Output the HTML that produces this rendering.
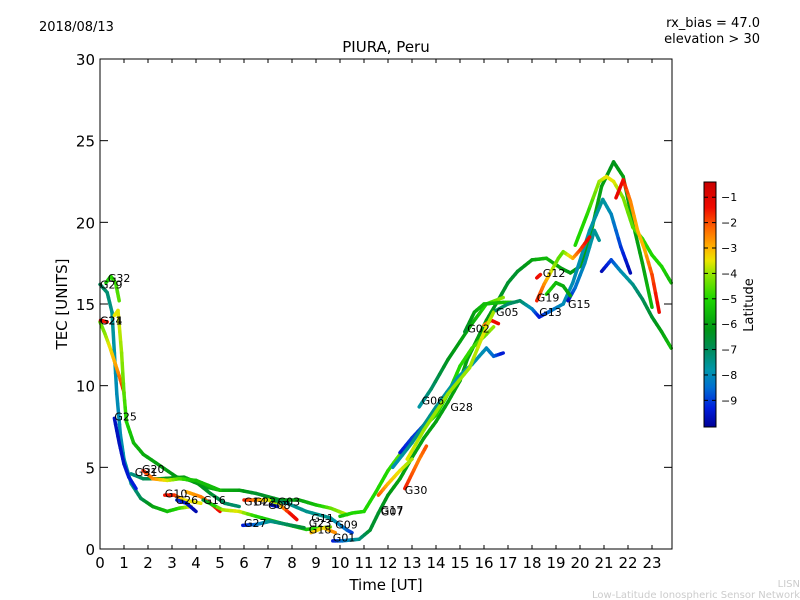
<!DOCTYPE html>
<html><head><meta charset="utf-8"><style>
html,body{margin:0;padding:0;background:#fff;}
svg{display:block;font-family:"DejaVu Sans","Liberation Sans",sans-serif;}
</style></head><body>
<svg id="chart" width="800" height="600" viewBox="0 0 800 600">
<defs>
<linearGradient id="cbgrad" x1="0" y1="1" x2="0" y2="0"></linearGradient>
</defs>
<text x="39" y="31" font-size="13">2018/08/13</text>
<text x="760" y="27" font-size="13" text-anchor="end">rx_bias = 47.0</text>
<text x="760" y="43" font-size="13" text-anchor="end">elevation &gt; 30</text>
<text x="386" y="52" font-size="15" text-anchor="middle">PIURA, Peru</text>
<g id="plot"></g>
<g id="axes"></g>
<rect x="100" y="59" width="572" height="490" fill="none" stroke="#000" stroke-width="1"/>
<text x="386" y="590" font-size="15" text-anchor="middle">Time [UT]</text>
<text x="0" y="0" font-size="15" text-anchor="middle" transform="translate(67,304) rotate(-90)">TEC [UNITS]</text>
<g id="cbar"></g>
<text x="0" y="0" font-size="13" text-anchor="middle" transform="translate(753,305) rotate(-90)">Latitude</text>
<text x="800" y="587" font-size="10" fill="#ccc" text-anchor="end">LISN</text>
<text x="800" y="598" font-size="10" fill="#ccc" text-anchor="end">Low-Latitude Ionospheric Sensor Network</text>
</svg>
<script>
const xTicks=[0,1,2,3,4,5,6,7,8,9,10,11,12,13,14,15,16,17,18,19,20,21,22,23];
const yTicks=[0,5,10,15,20,25,30];
const cbTicks=[-1,-2,-3,-4,-5,-6,-7,-8,-9];
const trackNames=["G29","G25","G32","G24","G21","G06b","G31","G20","G10","G26","G16r","G16","G14","G27","G03","G18","G01","G09","G06","G02","G05","G28b","G28","G23y","G30","G07","G13","G15","G19","G12","G19b","G22","G17r","G11b","G08"];
const trackT=[
[0,0.3,0.5,0.6,0.7,0.85,1.0,1.3,1.7,2.2,2.8,3.3,3.8],
[0.6,0.8,1.0,1.2,1.5],
[0.25,0.45,0.65,0.8],
[0,0.2,0.4,0.6,0.8,1.0],
[0.02,0.3],
[0.6,0.75,0.9,1.0,1.1,1.4,1.8,2.5,3.2,3.75,4.4,5,5.8,6.5,7.5,8.3,9.0,9.6,10.3],
[1.3,1.8,2.5,3.5,4.0,4.6,5.2,5.8],
[1.8,2.2,2.8,3.3,4.0,5.0],
[2.7,3.1,3.5,4.2],
[3.2,3.6,4.0],
[3.6,4.2,4.6,5.0],
[4.3,5.1,5.8,6.5,7.5,8.6,9.6],
[6.0,6.5,7.0,7.4,7.9,8.2],
[5.95,6.5,7.1,7.8,8.5],
[7.2,7.8,8.6,9.6,10.3,10.5],
[8.8,9.3,9.8],
[9.7,10.1,10.8,11.25,11.6,12,12.5,13,13.5,14,14.5,15,15.3,15.7,16.1,16.5,17,17.4,18.0,18.6,19.2,19.6,20.0,20.4,20.9,21.4,21.8,22.2,22.6,23.0],
[10,10.5,11,11.5,12,12.5,13,13.5,14,14.5,15,15.5,16,16.4],
[13.3,13.8,14.5,15.5,16.1,16.8],
[15.2,15.6,16,16.8,17.2],
[16.0,16.3,16.6],
[12.5,13.0,13.5,13.75],
[12.2,13,14,14.9,15.5,16.1,16.4,16.8],
[12.8,13.5,14.5,15.4,16.1,16.4],
[12.7,13.0,13.3,13.6],
[11.6,12.0,12.5,13],
[16.5,17.0,17.5,18.0,18.3,18.8,19.3,19.7,20.4,20.95,21.3,21.7,22.1],
[19.5,19.8,20.2,20.6,20.8],
[18.2,18.5,18.8,19.1,19.3,19.7,20.0,20.4],
[18.2,18.35],
[18.6,19.0,19.3,19.6],
[19.8,20.3,20.8,21.1,21.4,21.8,22.2,22.6,23,23.4,23.8],
[21.5,21.8,22.1,22.4,22.7,23.0,23.3],
[20.9,21.3,21.7,22.2,22.6,23,23.4,23.8],
[7.1,7.4]
];
const trackTec=[
[16.2,15.7,14.5,12,9.5,7,5.5,4.0,3.1,2.6,2.3,2.5,2.6],
[8.0,6.5,5.2,4.4,3.7],
[16.3,16.7,16.3,15.2],
[13.9,13.2,12.4,11.5,10.6,9.6],
[14.0,13.9],
[14.3,14.6,12,9.5,7.8,6.5,5.8,5.1,4.4,4.2,3.8,3.6,3.6,3.4,3.0,3.0,2.7,2.5,2.1],
[4.6,4.3,4.3,4.4,4.1,3.4,2.8,2.6],
[4.8,4.3,4.2,4.3,4.2,3.6],
[3.3,3.3,3.0,2.8],
[3.0,2.8,2.3],
[3.5,3.2,2.8,2.3],
[3.0,2.4,2.3,2.0,1.6,1.2,1.35],
[3.0,3.0,3.0,2.8,2.2,1.8],
[1.45,1.5,1.7,1.5,1.3],
[3.0,2.8,2.3,1.9,1.15,1.0],
[1.0,1.3,1.0],
[0.5,0.5,0.6,1.15,2.2,3.3,4.3,5.6,6.8,7.8,9.0,10.3,11.6,12.8,14.0,15.0,16.3,17.0,17.7,17.8,17.2,16.9,17.3,19,22.2,23.7,22.8,20,17.5,14.8],
[2.0,2.2,2.3,3.5,4.8,5.8,6.8,7.5,8.2,9.5,11.2,12.3,13,13.6],
[8.7,9.8,11.6,13.8,15.0,15.4],
[13.3,14.5,15.0,15.1,15.1],
[13.7,14.0,13.8],
[5.9,6.8,7.6,8.1],
[5.0,6.5,8.7,10.5,11.3,12.3,11.8,12.0],
[5.5,7.3,9.5,11.1,13.6,14.5],
[3.7,4.6,5.5,6.3],
[3.3,4.0,4.8,5.5],
[14.6,15.0,15.2,14.7,14.2,14.6,15.0,16.3,19.5,21.4,20.5,18.5,16.9],
[15.2,16.0,17.5,19.5,18.9],
[15.2,16.2,17.0,17.8,18.2,17.8,18.3,19.1],
[16.6,16.8],
[15.6,16.3,16.1,15.5],
[18.6,20.5,22.5,22.8,22.5,21.5,19.7,19.0,18,17.3,16.3],
[21.5,22.6,21.3,19.5,18.3,16.8,14.5],
[17.0,17.7,17.0,16.2,15.3,14.2,13.3,12.3],
[2.7,2.6]
];
const trackLat=[
[-7,-7.2,-7.5,-7.8,-8,-8,-7.8,-7.5,-7,-6,-5.5,-5,-3.5],
[-9.6,-9.6,-9.5,-9.4,-9.3],
[-5.5,-5,-4.8,-4.5],
[-4.5,-4.2,-3.5,-3,-2.5,-1.5],
[-1.2,-1.5],
[-3.5,-3.5,-4,-4.5,-5,-5.5,-5.8,-6,-6.2,-6.3,-6,-5.8,-6,-6.5,-6.3,-6,-5.5,-4.5,-3.8],
[-7.5,-7,-6.5,-6,-6,-6.5,-7,-7.2],
[-1.5,-2.5,-3.5,-4.5,-5.5,-5.5],
[-1.5,-1.5,-3.5,-3.5],
[-9,-9.5,-9.8],
[-3,-2.5,-2,-1.3],
[-7,-4,-3.5,-5,-5.5,-5.5,-4],
[-1.5,-2.5,-3.5,-4,-1.5,-1.3],
[-9.5,-8.5,-7.5,-7,-6.5],
[-6,-7.5,-7.5,-7.5,-8.5,-9],
[-3,-3.5,-2.5],
[-9.5,-8.5,-7.5,-6.5,-6.5,-6.2,-6,-6,-6,-6,-6,-6,-6,-6,-6.1,-6.3,-6.5,-6.5,-6,-5.5,-6,-6.2,-6,-6,-6,-6.3,-6,-6,-6,-5.5],
[-5.5,-5,-5,-5,-5,-4.5,-4.5,-4.5,-5,-5,-5,-4.8,-4.5,-4],
[-7.8,-7.2,-6.3,-5.8,-5,-4],
[-6.5,-6,-5.5,-5.5,-5.2],
[-3,-1.5,-1.2],
[-9.5,-9,-9,-9.8],
[-8,-7.5,-7.5,-7.8,-7.8,-8,-8.5,-9.5],
[-3.5,-4,-4,-4,-3.5,-4],
[-1.5,-2,-2.5,-2],
[-2,-3,-3.5,-4],
[-7,-7.2,-7,-8,-9.5,-8.5,-8,-8,-7.8,-7.6,-8,-9,-9.8],
[-9.8,-8.5,-8,-7.6,-7.6],
[-1.5,-2.5,-3.5,-4.5,-4.5,-3,-2,-1.2],
[-1.2,-1.5],
[-5,-5.5,-5.8,-6],
[-5,-5,-4,-3.5,-3.5,-4.2,-4.5,-4.8,-5,-5,-5.5],
[-1.2,-1.3,-2.5,-3,-3,-2,-1.2],
[-9.8,-9,-8,-7.5,-7,-6.5,-6,-5.5],
[-9.5,-9.5]
];
const labelNames=["G29","G32","G24","G21","G25","G31","G20","G10","G26","G16","G14","G22","G08","G03","G27","G11","G23","G18","G09","G01","G17","G07","G30","G06","G28","G02","G05","G12","G19","G13","G15"];
const labelT=[0.0,0.33,0.0,0.0,0.6,1.45,1.75,2.7,3.15,4.3,6.0,6.4,7.0,7.4,6.0,8.8,8.7,8.7,9.8,9.7,11.7,11.7,12.7,13.4,14.6,15.3,16.5,18.45,18.2,18.3,19.5];
const labelV=[16.2,16.6,14.0,14.0,8.1,4.7,4.9,3.4,3.0,3.0,2.9,2.9,2.7,2.9,1.6,1.9,1.6,1.2,1.5,0.7,2.4,2.3,3.6,9.1,8.7,13.5,14.5,16.9,15.4,14.5,15.0];

const X0=100,X1=672,Y0=549,Y1=59,TMAX=572/24,VMAX=30;
function px(t){return X0+t*(X1-X0)/TMAX;}
function py(v){return Y0-v*(Y0-Y1)/VMAX;}
const stops=[[-10.05,[0,0,150]],[-9.3,[0,30,220]],[-8.5,[0,110,210]],[-7.8,[0,150,170]],[-7,[0,140,90]],[-6.2,[0,150,20]],[-5,[30,215,0]],[-4,[150,230,0]],[-3.5,[235,230,0]],[-3,[255,180,0]],[-2.2,[255,100,0]],[-1.4,[240,10,0]],[-0.4,[200,0,0]]];
function cmap(l){
  if(l<=stops[0][0])return rgb(stops[0][1]);
  for(let i=1;i<stops.length;i++){
    if(l<=stops[i][0]){const a=stops[i-1],b=stops[i];const f=(l-a[0])/(b[0]-a[0]);
      return rgb(a[1].map((c,k)=>Math.round(c+(b[1][k]-c)*f)));}
  }
  return rgb(stops[stops.length-1][1]);
}
function rgb(c){return 'rgb('+c[0]+','+c[1]+','+c[2]+')';}
const NS='http://www.w3.org/2000/svg';
function mk(tag,attrs,parent){const e=document.createElementNS(NS,tag);for(const k in attrs)e.setAttribute(k,attrs[k]);parent.appendChild(e);return e;}
const plot=document.getElementById('plot');
trackT.forEach((ts,i)=>{
  const g=mk('g',{},plot);
  
  
  for(let j=0;j<ts.length-1;j++){
    const sub=4;
    for(let s=0;s<sub;s++){
      const f0=s/sub,f1=(s+1)/sub;
      const t0=ts[j]+(ts[j+1]-ts[j])*f0,t1=ts[j]+(ts[j+1]-ts[j])*f1;
      const v0=trackTec[i][j]+(trackTec[i][j+1]-trackTec[i][j])*f0,v1=trackTec[i][j]+(trackTec[i][j+1]-trackTec[i][j])*f1;
      const l=trackLat[i][j]+(trackLat[i][j+1]-trackLat[i][j])*(f0+f1)/2;
      const ln=mk('line',{x1:px(t0),y1:py(v0),x2:px(t1),y2:py(v1),stroke:cmap(l),'stroke-width':3.5,'stroke-linecap':'round'},g);
      
      
    }
  }
});
labelNames.forEach((n,i)=>{
  const t=mk('text',{x:px(labelT[i]),y:py(labelV[i])+4,'font-size':11,fill:'#000'},plot);
  t.textContent=n;
  
  
});
const axes=document.getElementById('axes');
xTicks.forEach(v=>{
  const x=px(v);
  const a=mk('line',{x1:x,y1:Y0,x2:x,y2:Y0-4,stroke:'#000'},axes);
  
  
  mk('line',{x1:x,y1:Y1,x2:x,y2:Y1+4,stroke:'#000'},axes);
  const t=mk('text',{x:x,y:568,'font-size':15,'text-anchor':'middle'},axes);
  t.textContent=v;
  
  
});
yTicks.forEach(v=>{
  const y=py(v);
  const a=mk('line',{x1:X0,y1:y,x2:X0+8,y2:y,stroke:'#000'},axes);
  
  
  mk('line',{x1:X1,y1:y,x2:X1-8,y2:y,stroke:'#000'},axes);
  const t=mk('text',{x:95,y:y+6,'font-size':15,'text-anchor':'end'},axes);
  t.textContent=v;
  
  
});
const gr=document.getElementById('cbgrad');
stops.forEach(s=>{const f=(s[0]+10.05)/(10.05-0.4);mk('stop',{offset:Math.min(1,Math.max(0,f)),'stop-color':rgb(s[1])},gr);});
const cb=document.getElementById('cbar');
const CBT=182,CBB=427,CBMIN=-10.05,CBMAX=-0.4;
const r=mk('rect',{x:704,y:CBT,width:12,height:CBB-CBT,fill:'url(#cbgrad)',stroke:'#000','stroke-width':1},cb);


cbTicks.forEach(v=>{
  const y=CBB-(v-CBMIN)/(CBMAX-CBMIN)*(CBB-CBT);
  mk('line',{x1:704,y1:y,x2:708,y2:y,stroke:'#000'},cb);
  mk('line',{x1:716,y1:y,x2:712,y2:y,stroke:'#000'},cb);
  const t=mk('text',{x:721,y:y+4,'font-size':11},cb);
  t.textContent='\u2212'+Math.abs(v);
  
  
});
</script>
</body></html>
